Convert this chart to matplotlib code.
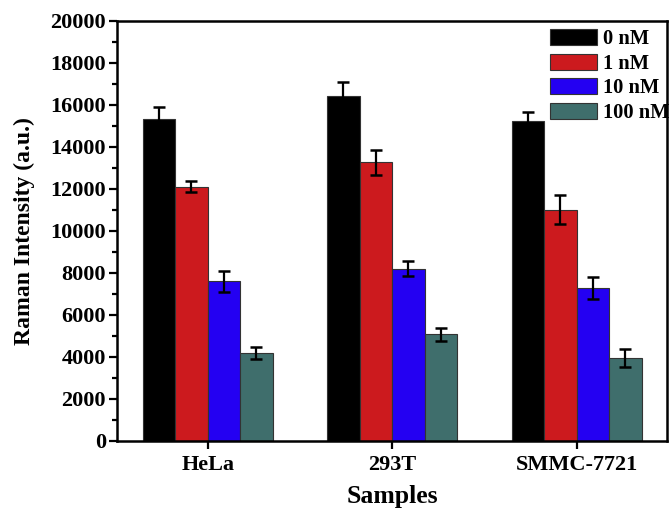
import numpy as np
import matplotlib
matplotlib.use('Agg')
import matplotlib.pyplot as plt
from matplotlib.ticker import MultipleLocator

plt.rcParams['font.family'] = 'Liberation Serif'
plt.rcParams['font.weight'] = 'bold'

# Raman intensity per cell line and concentration
samples = ['HeLa', '293T', 'SMMC-7721']
concentrations = ['0 nM', '1 nM', '10 nM', '100 nM']
intensity_0nM = [15300, 16400, 15200]
intensity_1nM = [12100, 13250, 11000]
intensity_10nM = [7600, 8200, 7280]
intensity_100nM = [4200, 5080, 3950]
err_0nM = [580, 660, 430]
err_1nM = [260, 600, 690]
err_10nM = [490, 370, 530]
err_100nM = [280, 310, 410]

values = [intensity_0nM, intensity_1nM, intensity_10nM, intensity_100nM]
errors = [err_0nM, err_1nM, err_10nM, err_100nM]
colors = ['#000000', '#CC1A1E', '#2400F2', '#3F6E6C']

fig = plt.figure(figsize=(6.7, 5.08), dpi=100)
ax = fig.add_axes([0.1746, 0.1319, 0.8209, 0.8277])

x = np.arange(1, len(samples) + 1)
width = 0.176
for i, (vals, errs, col, lab) in enumerate(zip(values, errors, colors, concentrations)):
    pos = x + (i - 1.5) * width
    ax.bar(pos, vals, width, color=col, edgecolor='#333333', linewidth=0.8, label=lab, zorder=2)
    ax.errorbar(pos, vals, yerr=errs, fmt='none', ecolor='black', elinewidth=1.6,
                capsize=4, capthick=1.8, zorder=3)

ax.set_xlim(0.508, 3.49)
ax.set_ylim(0, 20000)
ax.set_xticks(x)
ax.set_xticklabels(samples, fontsize=16, fontweight='bold')
ax.yaxis.set_major_locator(MultipleLocator(2000))
ax.yaxis.set_minor_locator(MultipleLocator(1000))
ax.tick_params(axis='y', labelsize=16, width=1.6, length=6, direction='out', pad=2)
ax.tick_params(axis='y', which='minor', width=1.6, length=3.5, direction='out')
ax.tick_params(axis='x', width=1.6, length=6, direction='out', pad=4)
for lbl in ax.get_yticklabels():
    lbl.set_fontweight('bold')
for sp in ax.spines.values():
    sp.set_linewidth(1.8)

ax.set_xlabel('Samples', fontsize=18.5, fontweight='bold', labelpad=7)
ax.set_ylabel('Raman Intensity (a.u.)', fontsize=17, fontweight='bold', labelpad=11)

ax.legend(loc='upper right', bbox_to_anchor=(1.012, 0.99), frameon=False,
          prop={'weight': 'bold', 'size': 14.8}, handlelength=2.25, handleheight=0.83,
          labelspacing=0.22, handletextpad=0.3, borderaxespad=0.0, borderpad=0.2)

fig.savefig('out.png', dpi=100)
